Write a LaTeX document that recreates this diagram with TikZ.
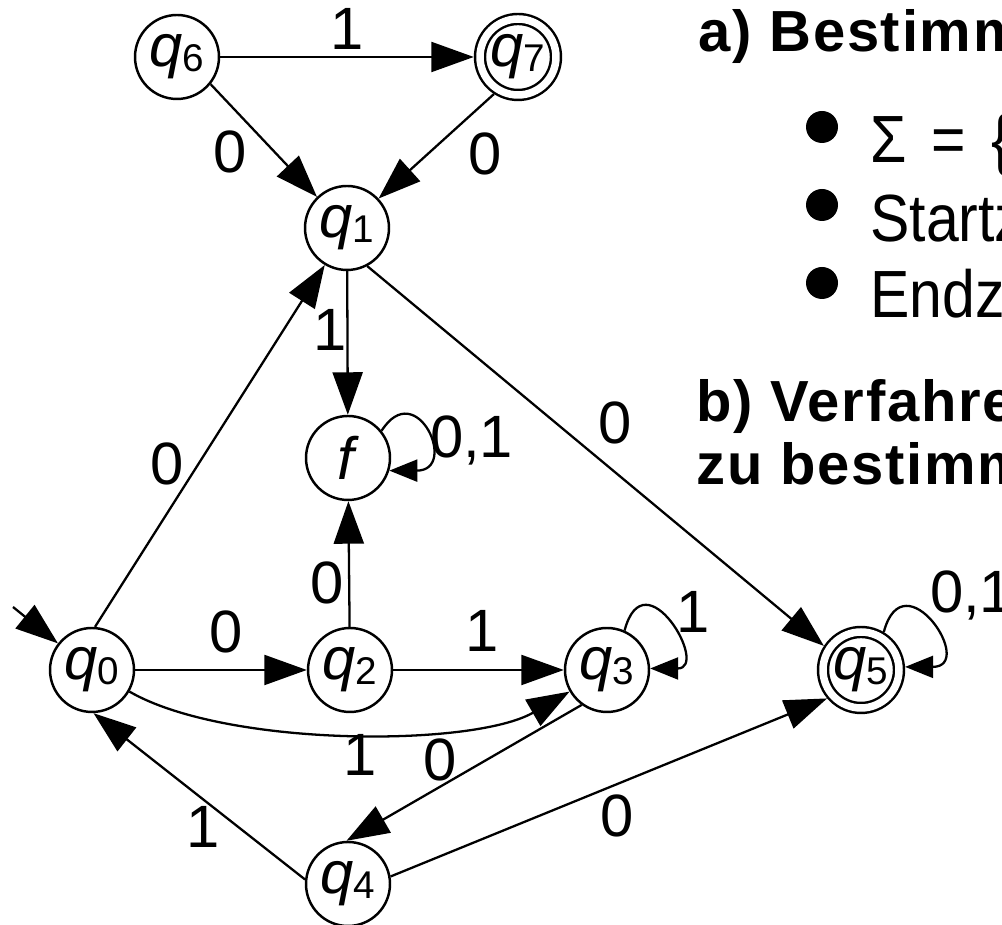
\documentclass[tikz,border=0pt]{standalone}
\usepackage{fontspec}
\setmainfont{Liberation Sans}
\newfontfamily\itemfont[FakeStretch=0.883]{Liberation Sans}
\newfontfamily\headfont[LetterSpace=3.0]{Liberation Sans}
\usetikzlibrary{arrows.meta}
\newcommand\qs[1]{\textit{q}\raisebox{-0.07em}{\fontsize{22}{22}\selectfont #1}}
\tikzset{
  dfa state/.style={circle, draw, line width=1.4pt, minimum size=1.68cm, inner sep=0pt, font=\fontsize{34}{40}\selectfont},
  dfa accept/.style={dfa state, double, double distance=0.15cm, minimum size=1.52cm, outer sep=0.125cm},
  dfa edge/.style={line width=1.3pt, -{Triangle[length=0.85cm,width=0.6cm]}},
  dfa loop/.style={line width=1.3pt, -{Triangle[length=0.56cm,width=0.44cm]}},
  dfa label/.style={font=\fontsize{34}{40}\selectfont, inner sep=0pt},
  dfa head/.style={font=\headfont\bfseries\fontsize{33}{40}\selectfont, anchor=base west, inner sep=0pt},
  dfa item/.style={font=\itemfont\fontsize{38}{45}\selectfont, anchor=base west, inner sep=0pt},
}
\begin{document}
\begin{tikzpicture}[x=0.02cm,y=0.02cm]
  \useasboundingbox (0,0) rectangle (1002,925);
  \clip (0,0) rectangle (1002,925);
  % states
  \node[dfa state] (q6) at (177,868) {\qs6};
  \node[dfa accept] (q7) at (518,868) {\qs7};
  \node[dfa state] (q1) at (347,697) {\qs1};
  \node[dfa state] (f) at (348,467) {\textit{f}};
  \node[dfa state] (q0) at (92,255) {\qs0};
  \node[dfa state] (q2) at (350,255) {\qs2};
  \node[dfa state] (q3) at (607,255) {\qs3};
  \node[dfa accept] (q5) at (861,255) {\qs5};
  \node[dfa state] (q4) at (348,41) {\qs4};
  \coordinate (init) at (13,318);
  % transitions
  \draw[dfa edge] (init) -- (q0.142);
  \draw[dfa edge] (q6) -- node[dfa label, above, pos=.5, inner sep=.12cm] {1} (q7);
  \draw[dfa edge] (q6.-39) -- node[dfa label, below left, pos=.38, inner sep=.06cm] {0} (q1.134);
  \draw[dfa edge] (q7.237) -- node[dfa label, below right, pos=.29, inner sep=.14cm] {0} (q1.43);
  \draw[dfa edge] (q1) -- node[dfa label, left, pos=.41] {1} (f);
  \draw[dfa edge] (q1.-62) -- node[dfa label, above right, pos=.49, inner sep=.13cm] {0} (q5.147);
  \draw[dfa edge] (q0.86) -- node[dfa label, above left, pos=.39] {0} (q1.239);
  \draw[dfa edge] (q0) -- node[dfa label, above, pos=.53, inner sep=.31cm] {0} (q2);
  \draw[dfa edge] (q2) -- node[dfa label, left, pos=.35, inner sep=.08cm] {0} (f);
  \draw[dfa edge] (q2) -- node[dfa label, above, pos=.52, inner sep=.34cm] {1} (q3);
  \draw[dfa edge] (q0) to[bend right=30, looseness=.65] node[dfa label, below, pos=.52] {1} (q3);
  \draw[dfa edge] (q3.234) -- node[dfa label, above, pos=.6, inner sep=.08cm] {0} (q4.92);
  \draw[dfa edge] (q4.10) -- node[dfa label, below, pos=.52, inner sep=.2cm] {0} (q5.220);
  \draw[dfa edge] (q4.174) -- node[dfa label, below, pos=.48, inner sep=.12cm] {1} (q0.-88);
  % loops
  \draw[dfa loop] (f.39) .. controls +(35,55) and +(70,0) .. node[dfa label, right, pos=.6, inner sep=.04cm] {0,1} (f.-17);
  \draw[dfa loop] (q3.66) .. controls +(20,75) and +(60,0) .. node[dfa label, right, pos=.4, inner sep=.31cm] {1} (q3.2);
  \draw[dfa loop] (q5.59) .. controls +(20,75) and +(72,0) .. node[dfa label, above right, pos=.5] {0,1} (q5.4);
  % task text
  \node[dfa head] (ta) at (698,873) {a) Bestimm};
  \foreach \y in {798,720,642} \fill (822,\y) circle (0.32cm);
  \node[dfa item] (sig) at (870,762) {Σ\hspace{.5cm}=\hspace{.5cm}\{};
  \node[dfa item] (start) at (870,683) {Startz};
  \node[dfa item] (end) at (870,607) {Endz};
  \node[dfa head] (tb) at (696,503) {b) Verfahre};
  \node[dfa head] (tc) at (696,440) {zu bestimm};
\end{tikzpicture}
\end{document}
